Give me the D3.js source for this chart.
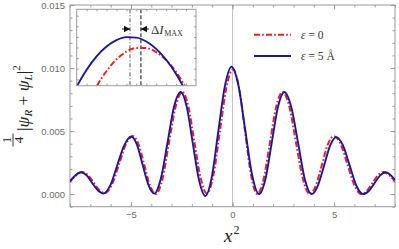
<!DOCTYPE html>
<html>
<head>
<meta charset="utf-8">
<script src="https://cdn.jsdelivr.net/npm/d3@7"></script>
<style>
  body { margin: 0; background: #fff; }
  svg { display: block; }
</style>
</head>
<body>
<svg id="chart" width="399" height="249"></svg>
<script>
// curve eps = 5 A (blue, solid)
const blueX = [-8, -7.73, -7.46, -7.18, -6.91, -6.63, -6.35, -6.01, -5.67, -5.32, -4.98, -4.70, -4.42, -4.13, -3.85,
  -3.53, -3.20, -2.88, -2.55, -2.25, -1.95, -1.64, -1.34, -1.02, -0.70, -0.37, -0.05, 0.29, 0.63, 0.97, 1.31,
  1.62, 1.93, 2.24, 2.55, 2.89, 3.23, 3.56, 3.90, 4.20, 4.51, 4.81, 5.11, 5.44, 5.77, 6.10, 6.43, 6.71, 6.99,
  7.27, 7.55, 7.78, 8]
const blueY = [0.00102, 0.00150, 0.00173, 0.00149, 0.00089, 0.00030, 0.00005, 0.00071, 0.00231, 0.00391, 0.00457,
  0.00391, 0.00230, 0.00070, 0.00004, 0.00122, 0.00407, 0.00692, 0.00810, 0.00690, 0.00398, 0.00106, -0.00015,
  0.00135, 0.00498, 0.00860, 0.01010, 0.00863, 0.00505, 0.00148, 0.00000, 0.00118, 0.00405, 0.00692, 0.00810,
  0.00692, 0.00405, 0.00118, 0.00000, 0.00066, 0.00226, 0.00386, 0.00452, 0.00386, 0.00226, 0.00066, 0.00000,
  0.00025, 0.00087, 0.00148, 0.00173, 0.00152, 0.00112]

// curve eps = 0 (red, dash-dot)
const redX = [-8, -7.70, -7.40, -7.12, -6.84, -6.56, -6.28, -5.94, -5.59, -5.25, -4.90, -4.62, -4.34, -4.06, -3.78,
  -3.45, -3.13, -2.80, -2.47, -2.17, -1.87, -1.56, -1.26, -0.94, -0.62, -0.30, 0.02, 0.32, 0.62, 0.92, 1.22,
  1.53, 1.84, 2.15, 2.46, 2.80, 3.13, 3.47, 3.80, 4.10, 4.40, 4.69, 4.99, 5.33, 5.67, 6.01, 6.35, 6.62, 6.89,
  7.16, 7.43, 7.72, 8]
const redY = [0.00098, 0.00148, 0.00175, 0.00151, 0.00092, 0.00032, 0.00008, 0.00074, 0.00234, 0.00394, 0.00460,
  0.00393, 0.00230, 0.00067, 0.00000, 0.00118, 0.00405, 0.00692, 0.00810, 0.00693, 0.00408, 0.00123, 0.00005,
  0.00149, 0.00498, 0.00846, 0.00990, 0.00846, 0.00495, 0.00145, 0.00000, 0.00118, 0.00405, 0.00692, 0.00810,
  0.00692, 0.00405, 0.00118, 0.00000, 0.00067, 0.00230, 0.00393, 0.00460, 0.00393, 0.00230, 0.00067, 0.00000,
  0.00026, 0.00088, 0.00150, 0.00175, 0.00148, 0.00100]

// inset: close-up of the central maximum
const insetX = [-0.30, -0.25, -0.20, -0.15, -0.10, -0.05, 0, 0.05, 0.10, 0.15, 0.20, 0.25]
const insetBlueY = [0.009166, 0.009482, 0.009733, 0.009919, 0.010040, 0.010096, 0.010087, 0.010013, 0.009874,
  0.009669, 0.009400, 0.009066]
const insetRedY = [0.008360, 0.008797, 0.009164, 0.009457, 0.009676, 0.009821, 0.009892, 0.009889, 0.009812,
  0.009661, 0.009436, 0.009137]
const insetPeaks = [-0.032, 0.023]

const xTicks = [-5, 0, 5]
const yTicks = [0, 0.005, 0.010, 0.015]
const legendLabels = ['ε = 0', 'ε = 5 Å']

const svg = d3.select('#chart')
const margin = {top: 5, right: 4, bottom: 42.3, left: 70}
const W = 399, H = 249
const frameColor = '#9a9a9a'
const blue = '#1717a3'
const red = '#f01e1e'
const redDash = '6,2.2,1.6,2.2'

const x = d3.scaleLinear().domain([-8, 8]).range([margin.left, W - margin.right])
const y = d3.scaleLinear().domain([-0.001, 0.015]).range([H - margin.bottom, margin.top])

svg.append('clipPath').attr('id', 'plotClip')
  .append('rect')
  .attr('x', margin.left).attr('y', margin.top)
  .attr('width', W - margin.left - margin.right)
  .attr('height', H - margin.top - margin.bottom)

// grid line at x = 0
svg.append('line')
  .attr('x1', x(0)).attr('x2', x(0))
  .attr('y1', margin.top).attr('y2', H - margin.bottom)
  .attr('stroke', '#c4c4c4').attr('stroke-width', 1)

function styleAxis(g) {
  g.select('.domain').remove()
  g.selectAll('.tick line').attr('stroke', frameColor)
  g.selectAll('.tick text')
    .attr('fill', '#6a6a6a')
    .attr('font-family', 'Liberation Sans, Arial, sans-serif')
    .attr('font-size', 9.5)
}

const minorX = d3.range(-8, 9, 1)
const minorY = d3.range(-0.001, 0.0151, 0.001)

// bottom
svg.append('g').attr('transform', `translate(0,${H - margin.bottom})`)
  .call(d3.axisBottom(x).tickValues(minorX).tickSize(-2.5).tickFormat(''))
  .call(styleAxis)
svg.append('g').attr('transform', `translate(0,${H - margin.bottom})`)
  .call(d3.axisBottom(x).tickValues(xTicks).tickSize(-4.5).tickPadding(4.5)
    .tickFormat(d => d < 0 ? '\u2212' + Math.abs(d) : d))
  .call(styleAxis)
// top
svg.append('g').attr('transform', `translate(0,${margin.top})`)
  .call(d3.axisTop(x).tickValues(minorX).tickSize(-2.5).tickFormat(''))
  .call(styleAxis)
svg.append('g').attr('transform', `translate(0,${margin.top})`)
  .call(d3.axisTop(x).tickValues(xTicks).tickSize(-4.5).tickFormat(''))
  .call(styleAxis)
// left
svg.append('g').attr('transform', `translate(${margin.left},0)`)
  .call(d3.axisLeft(y).tickValues(minorY).tickSize(-2.5).tickFormat(''))
  .call(styleAxis)
svg.append('g').attr('transform', `translate(${margin.left},0)`)
  .call(d3.axisLeft(y).tickValues(yTicks).tickSize(-4.5).tickPadding(5).tickFormat(d3.format('.3f')))
  .call(styleAxis)
// right
svg.append('g').attr('transform', `translate(${W - margin.right},0)`)
  .call(d3.axisRight(y).tickValues(minorY).tickSize(-2.5).tickFormat(''))
  .call(styleAxis)
svg.append('g').attr('transform', `translate(${W - margin.right},0)`)
  .call(d3.axisRight(y).tickValues(yTicks).tickSize(-4.5).tickFormat(''))
  .call(styleAxis)

svg.append('rect')
  .attr('x', margin.left).attr('y', margin.top)
  .attr('width', W - margin.left - margin.right)
  .attr('height', H - margin.top - margin.bottom)
  .attr('fill', 'none').attr('stroke', frameColor).attr('stroke-width', 1)

// main curves
const line = d3.line().curve(d3.curveMonotoneX)
  .x(d => x(d[0])).y(d => y(d[1]))

const plot = svg.append('g').attr('clip-path', 'url(#plotClip)')
plot.append('path')
  .datum(redX.map((v, i) => [v, redY[i]]))
  .attr('d', line)
  .attr('fill', 'none').attr('stroke', red).attr('stroke-width', 2)
  .attr('stroke-dasharray', redDash)
plot.append('path')
  .datum(blueX.map((v, i) => [v, blueY[i]]))
  .attr('d', line)
  .attr('fill', 'none').attr('stroke', blue).attr('stroke-width', 1.9)

// inset
const inset = {x0: 76.7, x1: 196, y0: 9.3, y1: 85.7}
const ix = d3.scaleLinear().domain([-0.3, 0.3]).range([inset.x0, inset.x1])
const iy = d3.scaleLinear().domain([0.00918, 0.01062]).range([inset.y1, inset.y0])

svg.append('clipPath').attr('id', 'insetClip')
  .append('rect')
  .attr('x', inset.x0).attr('y', inset.y0)
  .attr('width', inset.x1 - inset.x0).attr('height', inset.y1 - inset.y0)

svg.append('rect')
  .attr('x', inset.x0).attr('y', inset.y0)
  .attr('width', inset.x1 - inset.x0).attr('height', inset.y1 - inset.y0)
  .attr('fill', '#fff')

const insetTicksX = d3.range(-0.25, 0.3, 0.05)
const insetTicksY = d3.range(0.0093, 0.0106, 0.0002)
svg.append('g').attr('transform', `translate(0,${inset.y1})`)
  .call(d3.axisBottom(ix).tickValues(insetTicksX).tickSize(-2).tickFormat(''))
  .call(styleAxis)
svg.append('g').attr('transform', `translate(0,${inset.y0})`)
  .call(d3.axisTop(ix).tickValues(insetTicksX).tickSize(-2).tickFormat(''))
  .call(styleAxis)
svg.append('g').attr('transform', `translate(${inset.x0},0)`)
  .call(d3.axisLeft(iy).tickValues(insetTicksY).tickSize(-2).tickFormat(''))
  .call(styleAxis)
svg.append('g').attr('transform', `translate(${inset.x1},0)`)
  .call(d3.axisRight(iy).tickValues(insetTicksY).tickSize(-2).tickFormat(''))
  .call(styleAxis)

const iline = d3.line().curve(d3.curveMonotoneX)
  .x(d => ix(d[0])).y(d => iy(d[1]))
const ig = svg.append('g').attr('clip-path', 'url(#insetClip)')

// peak markers
ig.append('line')
  .attr('x1', ix(insetPeaks[0])).attr('x2', ix(insetPeaks[0]))
  .attr('y1', inset.y0).attr('y2', inset.y1)
  .attr('stroke', '#555').attr('stroke-width', 1)
  .attr('stroke-dasharray', '4,2,1,2')
ig.append('line')
  .attr('x1', ix(insetPeaks[1])).attr('x2', ix(insetPeaks[1]))
  .attr('y1', inset.y0).attr('y2', inset.y1)
  .attr('stroke', '#222').attr('stroke-width', 1.1)
  .attr('stroke-dasharray', '4,2')

ig.append('path')
  .datum(insetX.map((v, i) => [v, insetRedY[i]]))
  .attr('d', iline)
  .attr('fill', 'none').attr('stroke', red).attr('stroke-width', 2)
  .attr('stroke-dasharray', redDash)
ig.append('path')
  .datum(insetX.map((v, i) => [v, insetBlueY[i]]))
  .attr('d', iline)
  .attr('fill', 'none').attr('stroke', blue).attr('stroke-width', 1.9)

svg.append('rect')
  .attr('x', inset.x0).attr('y', inset.y0)
  .attr('width', inset.x1 - inset.x0).attr('height', inset.y1 - inset.y0)
  .attr('fill', 'none').attr('stroke', frameColor).attr('stroke-width', 1)

// Delta I_MAX arrows
const ay = 29
const pL = ix(insetPeaks[0]), pR = ix(insetPeaks[1])
svg.append('line').attr('x1', pL - 8).attr('x2', pL).attr('y1', ay).attr('y2', ay)
  .attr('stroke', '#111').attr('stroke-width', 1)
svg.append('path').attr('d', `M${pL},${ay}L${pL - 6},${ay - 3.2}L${pL - 6},${ay + 3.2}Z`).attr('fill', '#111')
svg.append('line').attr('x1', pR).attr('x2', pR + 8).attr('y1', ay).attr('y2', ay)
  .attr('stroke', '#111').attr('stroke-width', 1)
svg.append('path').attr('d', `M${pR},${ay}L${pR + 6},${ay - 3.2}L${pR + 6},${ay + 3.2}Z`).attr('fill', '#111')

const dText = svg.append('text')
  .attr('x', pR + 10).attr('y', ay + 4.5)
  .attr('font-family', 'Liberation Serif, DejaVu Serif, serif')
  .attr('font-size', 13).attr('fill', '#333')
dText.append('tspan').text('Δ')
dText.append('tspan').attr('font-style', 'italic').text('I')
dText.append('tspan').attr('font-size', 8).attr('dy', 2).attr('dx', 0.5).text('MAX')

// legend
const legendY = [34.7, 56]
const legendColors = [red, blue]
const legend = svg.append('g')
legendLabels.forEach((lab, i) => {
  legend.append('line')
    .attr('x1', 254).attr('x2', 291)
    .attr('y1', legendY[i]).attr('y2', legendY[i])
    .attr('stroke', legendColors[i]).attr('stroke-width', 2)
    .attr('stroke-dasharray', i === 0 ? redDash : null)
  const t = legend.append('text')
    .attr('x', 301).attr('y', legendY[i] + 3.8)
    .attr('font-family', 'Liberation Serif, DejaVu Serif, serif')
    .attr('font-size', 11.5).attr('fill', '#333')
  const parts = lab.split(' ')
  t.append('tspan').attr('font-style', 'italic').text(parts[0])
  t.append('tspan').text(' ' + parts.slice(1).join(' '))
})

// x label
const xl = svg.append('text')
  .attr('x', 224).attr('y', 242)
  .attr('font-family', 'Liberation Serif, DejaVu Serif, serif')
  .attr('font-size', 19).attr('fill', '#222')
xl.append('tspan').attr('font-style', 'italic').text('x')
xl.append('tspan').attr('font-size', 12).attr('dy', -8).attr('dx', 1).text('2')

// y label (rotated)
const yl = svg.append('g').attr('transform', 'rotate(-90)')
  .attr('font-family', 'Liberation Serif, DejaVu Serif, serif').attr('fill', '#222')
yl.append('text').attr('x', -140).attr('y', 10.5).attr('text-anchor', 'middle')
  .attr('font-size', 13).text('1')
yl.append('text').attr('x', -140).attr('y', 23).attr('text-anchor', 'middle')
  .attr('font-size', 13).text('4')
yl.append('line').attr('x1', -146.5).attr('x2', -133.5).attr('y1', 13).attr('y2', 13)
  .attr('stroke', '#222').attr('stroke-width', 0.9)
const ym = yl.append('text').attr('x', -131).attr('y', 29).attr('font-size', 17.5)
ym.append('tspan').text('|')
ym.append('tspan').attr('font-style', 'italic').text('ψ')
ym.append('tspan').attr('font-style', 'italic').attr('font-size', 11).attr('dy', 3).text('R')
ym.append('tspan').attr('dy', -3).text(' + ')
ym.append('tspan').attr('font-style', 'italic').text('ψ')
ym.append('tspan').attr('font-style', 'italic').attr('font-size', 11).attr('dy', 3).text('L')
ym.append('tspan').attr('dy', -3).text('|')
ym.append('tspan').attr('font-size', 11).attr('dy', -9).text('2')
</script>
</body>
</html>
